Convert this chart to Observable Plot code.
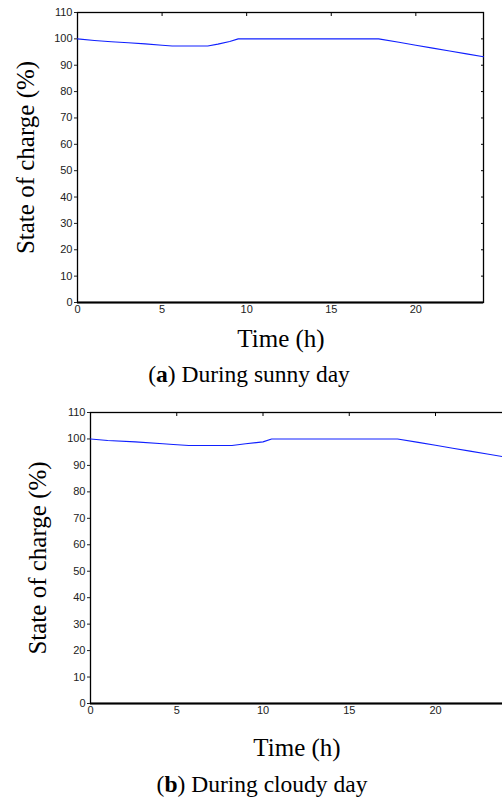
<!DOCTYPE html>
<html><head><meta charset="utf-8">
<script src="https://cdn.jsdelivr.net/npm/d3@7"></script>
<script src="https://cdn.jsdelivr.net/npm/@observablehq/plot@0.6"></script>
<style>
html,body{margin:0;padding:0;background:#fff;width:502px;height:800px;overflow:hidden;position:relative}
.abs{position:absolute}
.serif{font-family:"Liberation Serif","Times New Roman",serif;color:#000;white-space:nowrap;line-height:1;transform:translateX(-50%)}
svg{max-width:none !important}
</style></head><body>
<div id="panelA" class="abs" style="left:0;top:0;width:502px;height:395px"></div>
<div id="panelB" class="abs" style="left:0;top:400px;width:520px;height:400px"></div>
<div class="abs serif" style="left:281px;top:325.6px;font-size:25px">Time (h)</div>
<div class="abs serif" style="left:249px;top:363.4px;font-size:23.5px">(<b>a</b>) During sunny day</div>
<div class="abs serif" style="left:297px;top:734.6px;font-size:25px">Time (h)</div>
<div class="abs serif" style="left:262px;top:773.4px;font-size:23.5px">(<b>b</b>) During cloudy day</div>
<script>
// Panel (a): sunny day
const sunnyTime = [0, 1, 2, 3, 4, 5, 5.6, 7.7, 8.3, 9, 9.5, 17.8, 19, 20, 21, 22, 23, 24];
const sunnySoc  = [100, 99.4, 98.9, 98.5, 98.1, 97.6, 97.3, 97.3, 98.0, 99.0, 100, 100, 98.7, 97.6, 96.5, 95.4, 94.3, 93.2];
// Panel (b): cloudy day
const cloudyTime = [0, 1, 2.6, 4.2, 4.8, 5.7, 8.2, 9, 10, 10.5, 17.8, 19, 20, 21, 22, 23, 24];
const cloudySoc  = [100, 99.4, 98.9, 98.2, 97.9, 97.5, 97.5, 98.2, 98.9, 100, 100, 98.7, 97.6, 96.5, 95.4, 94.3, 93.2];
// Ticks and labels
const xTicks = [0, 5, 10, 15, 20];
const yTicks = [0, 10, 20, 30, 40, 50, 60, 70, 80, 90, 100, 110];
const yLabel = "State of charge (%)";

function panel(time, soc, o) {
  const rows = time.map((t, i) => ({t, soc: soc[i]}));
  const svg = Plot.plot({
    width: o.width, height: o.height,
    marginTop: o.marginTop, marginRight: o.marginRight,
    marginBottom: o.marginBottom, marginLeft: o.marginLeft,
    style: {fontFamily: '"Liberation Sans", Arial, sans-serif', fontSize: "11px", color: "#222", background: "white", overflow: "visible", maxWidth: "none"},
    x: {domain: [0, 24], label: null},
    y: {domain: [0, 110], label: null},
    marks: [
      Plot.frame({stroke: "black", strokeWidth: 1.3}),
      Plot.axisX(xTicks, {anchor: "bottom", tickSize: 0, tickPadding: 3, fill: "#222", label: null}),
      Plot.axisX(xTicks.slice(1), {anchor: "top", tickSize: -3, fill: "none", stroke: "black", label: null}),
      Plot.axisY(yTicks, {anchor: "left", tickSize: 3, tickPadding: 2, fill: "#222", label: null}),
      Plot.axisY(yTicks.slice(1), {anchor: "right", tickSize: -3, fill: "none", stroke: "black", label: null}),
      Plot.ruleY([0], {stroke: "black", strokeWidth: 2}),
      Plot.line(rows, {x: "t", y: "soc", stroke: "#1020ff", strokeWidth: 1.1}),
      Plot.text([yLabel], {text: d => d, frameAnchor: "left", textAnchor: "middle", dx: o.labelDx, rotate: -90, fontSize: 25, fontFamily: '"Liberation Serif","Times New Roman",serif', fill: "black"})
    ]
  });
  svg.style.maxWidth = "none";
  return svg;
}

document.getElementById("panelA").append(panel(sunnyTime, sunnySoc, {
  width: 502, height: 395, marginTop: 12, marginRight: 19, marginBottom: 93, marginLeft: 77, labelDx: -52
}));
document.getElementById("panelB").append(panel(cloudyTime, cloudySoc, {
  width: 520, height: 400, marginTop: 12, marginRight: 16, marginBottom: 97, marginLeft: 90, labelDx: -53
}));
</script>
</body></html>
